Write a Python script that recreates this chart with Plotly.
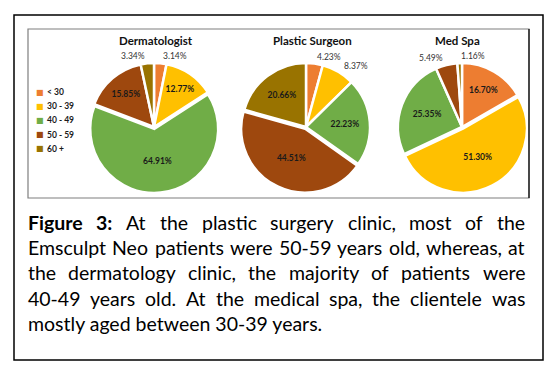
import json
import math
import plotly.graph_objects as go

# ---- data ----
age_groups = ["< 30", "30 - 39", "40 - 49", "50 - 59", "60 +"]
clinics = ["Dermatologist", "Plastic Surgeon", "Med Spa"]
dermatologist = [3.14, 12.77, 64.91, 15.85, 3.34]
plastic_surgeon = [4.23, 8.37, 22.23, 44.51, 20.66]
med_spa = [16.70, 51.30, 25.35, 5.49, 1.16]
colors = ["#ED7D31", "#FFC000", "#70AD47", "#9E480E", "#997300"]

caption_lines = [
    ["Figure", "3:", "At", "the", "plastic", "surgery", "clinic,", "most", "of", "the"],
    ["Emsculpt", "Neo", "patients", "were", "50-59", "years", "old,", "whereas,", "at"],
    ["the", "dermatology", "clinic,", "the", "majority", "of", "patients", "were"],
    ["40-49", "years", "old.", "At", "the", "medical", "spa,", "the", "clientele", "was"],
    ["mostly aged between 30-39 years."],
]
# layout: initial word centre positions (px); refined by justification in the page
caption_cx = [
    [None, 102, 134.5, 171.5, 234, 302.5, 373, 432, 470, None],
    [None, 121.5, 175.5, 246.5, 304, 358.5, 404.5, 460.5, None],
    [None, 117, 202.5, 259, 314.5, 367.5, 427.5, None],
    [None, 102.5, 151.5, 192, 224.5, 280, 334.5, 372.5, 434.5, None],
    [None],
]
caption_y = [222, 247, 272, 298, 323]
TEXT_LEFT, TEXT_RIGHT = 28, 525

W, H = 559, 382
FONT = "Lato"
CAP_SIZE = 19.5

def px(x):
    return x / W

def py(y):
    return 1 - y / H

series = [dermatologist, plastic_surgeon, med_spa]
centers = [(154, 127), (306, 127), (462, 127)]
title_cx = [155.5, 312, 457.5]
radius = 64
pull_amt = 0.03
outside = [
    [True, False, False, False, True],
    [True, True, False, False, False],
    [False, False, False, True, True],
]

fig = go.Figure()
annotations = []
for i, (name, vals) in enumerate(zip(clinics, series)):
    cx, cy = centers[i]
    r = radius * (1 + pull_amt)
    mx = max(vals)
    fig.add_trace(go.Pie(
        labels=age_groups, values=vals, name=name,
        sort=False, direction="clockwise", rotation=0,
        marker=dict(colors=colors, line=dict(color="white", width=2.5)),
        pull=[pull_amt if v == mx else 0 for v in vals],
        texttemplate="%{value:.2f}%",
        textposition=["none" if o else "inside" for o in outside[i]],
        insidetextorientation="horizontal",
        insidetextfont=dict(family=FONT, size=8.5, color="#1a1a1a", weight="bold"),
        domain=dict(x=[px(cx - r), px(cx + r)], y=[py(cy + r), py(cy - r)]),
        showlegend=False,
        hoverinfo="label+value",
    ))
    annotations.append(dict(x=px(title_cx[i]), y=py(41), xref="paper", yref="paper",
                            text="<b>%s</b>" % name, showarrow=False,
                            font=dict(family=FONT, size=11.5, color="#111111"),
                            xanchor="center", yanchor="middle"))
    # outside labels for the thin slices, placed along each slice's mid angle
    total = sum(vals)
    cum = 0.0
    for v, o in zip(vals, outside[i]):
        mid = (cum + v / 2) / total * 2 * math.pi
        cum += v
        if not o:
            continue
        rr = radius + 7
        lx = cx + rr * math.sin(mid)
        ly = cy - rr * math.cos(mid)
        annotations.append(dict(x=px(lx), y=py(ly), xref="paper", yref="paper",
                                text="%.2f%%" % v, showarrow=False,
                                xanchor="left" if math.sin(mid) > -0.05 else "right",
                                yanchor="middle",
                                font=dict(family=FONT, size=8.5, color="#333333")))

# manual legend
for k, (lab, col) in enumerate(zip(age_groups, colors)):
    yy = 92 + k * 14.2
    annotations.append(dict(x=px(40), y=py(yy), xref="paper", yref="paper",
                            text="■", showarrow=False, xanchor="center", yanchor="middle",
                            font=dict(family="DejaVu Sans", size=8, color=col)))
    annotations.append(dict(x=px(45), y=py(yy), xref="paper", yref="paper",
                            text="<b>%s</b>" % lab, showarrow=False,
                            xanchor="left", yanchor="middle",
                            font=dict(family=FONT, size=8.5, color="#1a1a1a")))

# caption words
line_groups = []
for line, xs, y in zip(caption_lines, caption_cx, caption_y):
    n = len(line)
    idxs = []
    for j, (w, x) in enumerate(zip(line, xs)):
        txt = w
        if line[0] == "Figure" and j < 2:
            txt = "<b>%s</b>" % w
        if j == 0:
            xa, xp = "left", TEXT_LEFT
        elif j == n - 1:
            xa, xp = "right", TEXT_RIGHT
        else:
            xa, xp = "center", x
        idxs.append(len(annotations))
        annotations.append(dict(x=px(xp), y=py(y), xref="paper", yref="paper",
                                text=txt, showarrow=False, xanchor=xa, yanchor="middle",
                                borderpad=0, borderwidth=0,
                                font=dict(family=FONT, size=CAP_SIZE, color="#000000")))
    line_groups.append(idxs)

fig.update_layout(
    width=W, height=H,
    margin=dict(l=0, r=0, t=0, b=0),
    paper_bgcolor="white", plot_bgcolor="white",
    showlegend=False,
    annotations=annotations,
    shapes=[
        dict(type="rect", xref="paper", yref="paper", x0=px(14), x1=px(543),
             y0=py(360), y1=py(15), line=dict(color="black", width=1.5)),
        dict(type="rect", xref="paper", yref="paper", x0=px(28), x1=px(529),
             y0=py(198), y1=py(29), line=dict(color="#7f7f7f", width=1.2)),
        dict(type="line", xref="paper", yref="paper", x0=px(529), x1=px(529),
             y0=py(198), y1=py(29), line=dict(color="black", width=1.2)),
    ],
)

# justify the caption lines (all but the last) using measured word widths
post_js = """
document.body.style.margin = '0';
document.body.style.overflow = 'hidden';
var gd = document.getElementById('{plot_id}');
var groups = %s;
var L = %d, R = %d, W = %d;
var upd = {};
groups.forEach(function(idx, li) {
  if (idx.length < 2 || li === groups.length - 1) return;
  var ws = idx.map(function(i) {
    var el = gd.querySelector('.annotation[data-index="' + i + '"] .annotation-text');
    return el ? el.getBBox().width : 0;
  });
  if (ws.some(function(w) { return w <= 0; })) return;
  var tot = ws.reduce(function(a, b) { return a + b; }, 0);
  var gap = Math.max(3, (R - L - tot) / (idx.length - 1));
  var x = L;
  idx.forEach(function(i, k) {
    upd['annotations[' + i + '].x'] = x / W;
    upd['annotations[' + i + '].xanchor'] = 'left';
    x += ws[k] + gap;
  });
});
Plotly.relayout(gd, upd);
""" % (json.dumps(line_groups), TEXT_LEFT, TEXT_RIGHT, W)

fig.write_html("out.html", post_script=post_js, config={"displayModeBar": False})
